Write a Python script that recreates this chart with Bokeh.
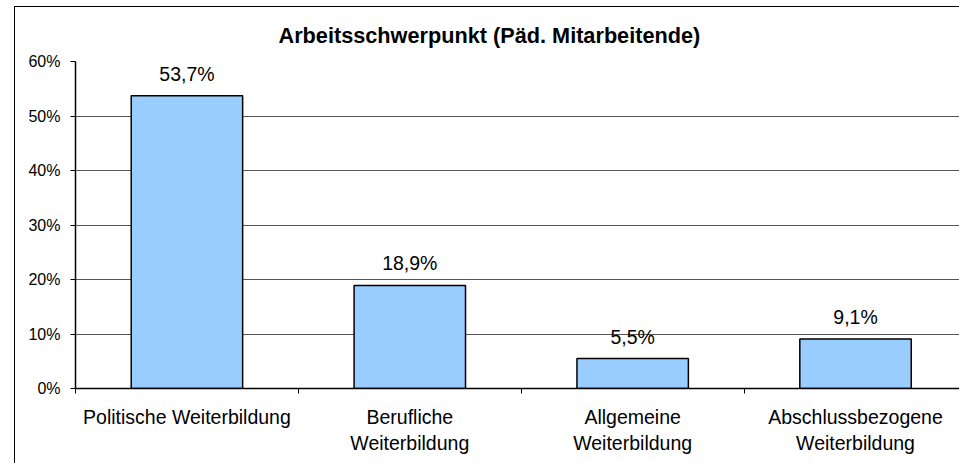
from bokeh.plotting import figure
from bokeh.models import Range1d, FixedTicker, PrintfTickFormatter, ColumnDataSource
from bokeh.core.properties import value
from bokeh.embed import file_html
from bokeh.resources import INLINE

# ---- data ----
categories = ["Politische Weiterbildung", "Berufliche\nWeiterbildung",
              "Allgemeine\nWeiterbildung", "Abschlussbezogene\nWeiterbildung"]
shares = [53.7, 18.9, 5.5, 9.1]
y_ticks = [0, 10, 20, 30, 40, 50, 60]
title_text = "Arbeitsschwerpunkt (Päd. Mitarbeitende)"

FONT = "Liberation Sans"
positions = [i + 0.5 for i in range(len(categories))]
boundaries = list(range(len(categories) + 1))
labels = [f"{v:.1f}".replace(".", ",") + "%" for v in shares]

src = ColumnDataSource(dict(x=positions, top=shares, label=labels))

p = figure(width=945, height=457, output_backend="svg", toolbar_location=None,
           x_range=Range1d(0, 3.971), y_range=Range1d(0, 60),
           min_border_left=60, min_border_right=0, min_border_top=54, min_border_bottom=76,
           background_fill_color="white", border_fill_color="white",
           styles={"margin-left": "14px", "margin-top": "6px",
                   "border-left": "1px solid black", "border-top": "1px solid black"})
p.outline_line_color = None

p.title.text = title_text
p.title.align = "left"
p.title.offset = 203
p.title.text_font = FONT
p.title.text_font_size = "21.7px"
p.title.text_font_style = "bold"
p.title.text_color = "black"
p.title.standoff = 27

p.vbar(x="x", top="top", bottom=0, width=0.5, source=src,
       fill_color="#99CCFF", line_color="black", line_width=1.5)

p.text(x="x", y="top", text="label", source=src, text_align="center",
       text_baseline="alphabetic", y_offset=-22, text_font=value(FONT),
       text_font_size="19.5px", text_color="black")

# grid
p.xgrid.visible = False
p.ygrid.ticker = FixedTicker(ticks=y_ticks)
p.ygrid.grid_line_color = "#555555"
p.ygrid.grid_line_width = 1

# y axis
p.yaxis.ticker = FixedTicker(ticks=y_ticks)
p.yaxis.formatter = PrintfTickFormatter(format="%d%%")
p.yaxis.major_label_text_font = FONT
p.yaxis.major_label_text_font_size = "16px"
p.yaxis.major_label_text_color = "black"
p.yaxis.major_tick_out = 5
p.yaxis.major_tick_in = 0
p.yaxis.major_tick_line_color = "black"
p.yaxis.minor_tick_line_color = None
p.yaxis.axis_line_color = "black"
p.yaxis.axis_line_width = 1.5
p.yaxis.major_label_standoff = 10

# x axis
p.xaxis.ticker = FixedTicker(ticks=positions, minor_ticks=boundaries)
p.xaxis.major_label_overrides = dict(zip(positions, categories))
p.xaxis.major_label_text_font = FONT
p.xaxis.major_label_text_font_size = "19.5px"
p.xaxis.major_label_text_color = "black"
p.xaxis.major_tick_line_color = None
p.xaxis.minor_tick_in = 0
p.xaxis.minor_tick_out = 5
p.xaxis.minor_tick_line_color = "black"
p.xaxis.axis_line_color = "black"
p.xaxis.axis_line_width = 1.5
p.xaxis.major_label_standoff = 11

open("out.html", "w").write(file_html(p, INLINE))
